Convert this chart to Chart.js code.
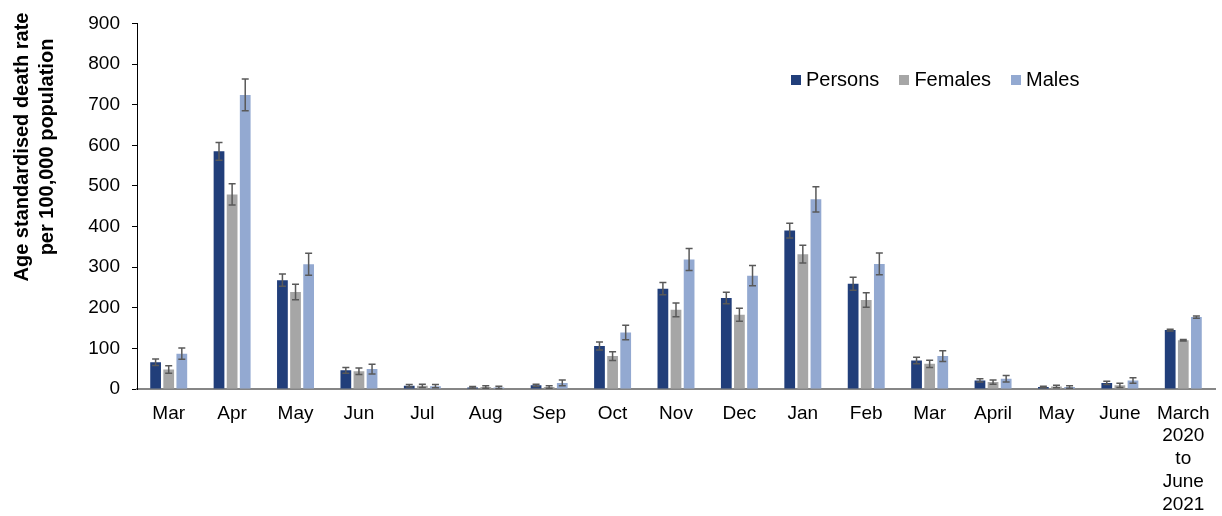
<!DOCTYPE html>
<html>
<head>
<meta charset="utf-8">
<script src="https://cdn.jsdelivr.net/npm/chart.js@4/dist/chart.umd.min.js"></script>
<style>
  html, body { margin:0; padding:0; background:#fff; }
  #wrap { position:relative; width:1222px; height:516px; }
  #legend {
    position:absolute; left:791px; top:68px;
    display:flex; align-items:center;
    font-family:"Liberation Sans", Arial, sans-serif; font-size:20px; color:#000;
  }
  #legend .item { display:flex; align-items:center; margin-right:20px; }
  #legend .box { width:10px; height:10px; margin-right:5px; }
</style>
</head>
<body>
<div id="wrap">
  <canvas id="myChart" width="1222" height="516"></canvas>
  <div id="legend"></div>
</div>
<script>
const labels = ['Mar','Apr','May','Jun','Jul','Aug','Sep','Oct','Nov','Dec','Jan','Feb','Mar','April','May','June',['March','2020','to','June','2021']];
const seriesNames = ['Persons','Females','Males'];
const seriesColors = ['#213E7A','#A6A6A6','#93A9D1'];

const persons    = [66,585,268,46,8,4,9,106,247,224,390,259,70,21,5,15,145];
const personsErr = [8,22,15,7,3,2,3,10,15,14,18,16,8,4,2,4,2];
const females    = [48,479,239,44,8,5,5,81,195,183,332,219,62,17,6,9,120];
const femalesErr = [9,26,19,8,4,3,3,11,17,16,22,18,9,5,3,5,2];
const males      = [87,724,307,49,7,4,15,139,319,279,467,308,81,25,5,21,177];
const malesErr   = [14,39,27,12,4,3,7,18,27,25,31,27,13,8,3,7,3];

const yTicks = [0,100,200,300,400,500,600,700,800,900];
const yTitle = ['Age standardised death rate', 'per 100,000 population'];

(function(){
  'use strict';

  const FONT = '"Liberation Sans", Arial, sans-serif';
  const errors = [personsErr, femalesErr, malesErr];

  // whiskers drawn from each bar's own x and the y scale
  const errorBars = {
    id: 'errorBars',
    afterDatasetsDraw(chart){
      const ctx = chart.ctx;
      const y = chart.scales.y;
      ctx.save();
      ctx.strokeStyle = '#595959';
      ctx.lineWidth = 1.5;
      chart.data.datasets.forEach((ds, di) => {
        const meta = chart.getDatasetMeta(di);
        meta.data.forEach((bar, i) => {
          const v = ds.data[i], e = errors[di][i];
          const top = y.getPixelForValue(v + e);
          const bot = y.getPixelForValue(Math.max(0, v - e));
          const cap = 3.5;
          ctx.beginPath();
          ctx.moveTo(bar.x, top); ctx.lineTo(bar.x, bot);
          ctx.moveTo(bar.x - cap, top); ctx.lineTo(bar.x + cap, top);
          ctx.moveTo(bar.x - cap, bot); ctx.lineTo(bar.x + cap, bot);
          ctx.stroke();
        });
      });
      ctx.restore();
    }
  };

  // axis title sits above the middle of the axis, like the original
  const sideTitle = {
    id: 'sideTitle',
    afterDraw(chart){
      const ctx = chart.ctx;
      ctx.save();
      ctx.translate(0, 147);
      ctx.rotate(-Math.PI / 2);
      ctx.fillStyle = '#000';
      ctx.font = 'bold 20px ' + FONT;
      ctx.textAlign = 'center';
      ctx.textBaseline = 'middle';
      yTitle.forEach((line, i) => ctx.fillText(line, 0, 22 + i * 25));
      ctx.restore();
    }
  };

  const values = [persons, females, males];
  const datasets = seriesNames.map((name, i) => ({
    label: name,
    data: values[i],
    backgroundColor: seriesColors[i],
    borderWidth: 0,
    categoryPercentage: 0.62,
    barPercentage: 0.82
  }));

  new Chart(document.getElementById('myChart'), {
    type: 'bar',
    data: { labels, datasets },
    plugins: [errorBars, sideTitle],
    options: {
      responsive: false,
      animation: false,
      layout: { padding: { top: 16, right: 7, bottom: -5, left: 0 } },
      plugins: { legend: { display: false }, tooltip: { enabled: false } },
      scales: {
        x: {
          grid: { display: false },
          border: { display: true, color: '#868686', width: 2 },
          ticks: {
            color: '#000', maxRotation: 0, autoSkip: false, padding: 5,
            font: { family: FONT, size: 19, lineHeight: 1.2 }
          }
        },
        y: {
          min: 0, max: 900,
          afterFit(scale){ scale.width = 137; },
          afterBuildTicks(scale){ scale.ticks = yTicks.map(v => ({ value: v })); },
          grid: { drawOnChartArea: false, tickLength: 5, color: '#000' },
          border: { display: true, color: '#000', width: 1 },
          ticks: {
            color: '#000', padding: 12,
            font: { family: FONT, size: 19 }
          }
        }
      }
    }
  });

  const legend = document.getElementById('legend');
  seriesNames.forEach((name, i) => {
    const item = document.createElement('div');
    item.className = 'item';
    const box = document.createElement('span');
    box.className = 'box';
    box.style.background = seriesColors[i];
    const txt = document.createElement('span');
    txt.textContent = name;
    item.appendChild(box);
    item.appendChild(txt);
    legend.appendChild(item);
  });
})();
</script>
</body>
</html>
